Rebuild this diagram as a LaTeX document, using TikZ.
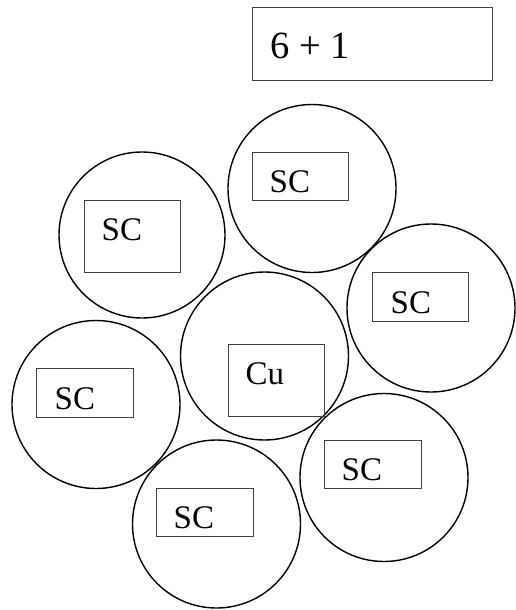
\documentclass[tikz,border=0pt]{standalone}
\usepackage{fontspec}
\setmainfont{Liberation Serif}
\begin{document}
\begin{tikzpicture}[x=1pt,y=-1pt,
  strand/.style={circle,draw=black,line width=1.4pt,minimum size=168pt,inner sep=0pt},
  lbox/.style={draw=black!75,line width=1pt,inner sep=0pt},
  lbl/.style={anchor=base west,inner sep=0pt,font=\fontsize{33}{33}\selectfont},
  ttl/.style={anchor=base west,inner sep=0pt,font=\fontsize{38.5}{38.5}\selectfont}]
\useasboundingbox (0,0) rectangle (515,610);
% title
\node[lbox,minimum width=240pt,minimum height=72pt] (title) at (372,44) {};
\node[ttl] (titletext) at (270,59) {6 + 1};
% strands
\node[strand] (c1) at (312,188.5) {};
\node[strand,minimum size=166pt] (c2) at (142,235) {};
\node[strand] (c3) at (431,308) {};
\node[strand] (c4) at (264.5,356) {};
\node[strand] (c5) at (96,404.5) {};
\node[strand] (c6) at (384,477.5) {};
\node[strand] (c7) at (216.5,524) {};
% boxes
\node[lbox,minimum width=96pt,minimum height=48pt] (r1) at (300,176) {};
\node[lbox,minimum width=96pt,minimum height=72pt] (r2) at (132,236) {};
\node[lbox,minimum width=96pt,minimum height=49pt] (r3) at (420,296.5) {};
\node[lbox,minimum width=96pt,minimum height=72pt] (r4) at (276,380) {};
\node[lbox,minimum width=97pt,minimum height=49pt] (r5) at (84.5,392.5) {};
\node[lbox,minimum width=97pt,minimum height=48pt] (r6) at (372.5,464) {};
\node[lbox,minimum width=97pt,minimum height=48pt] (r7) at (204.5,512) {};
% labels
\node[lbl] (t1) at (269.5,192) {SC};
\node[lbl] (t2) at (101.5,240) {SC};
\node[lbl] (t3) at (390.5,313) {SC};
\node[lbl] (t4) at (245.5,384) {Cu};
\node[lbl] (t5) at (54.5,409) {SC};
\node[lbl] (t6) at (341.5,480) {SC};
\node[lbl] (t7) at (173.5,528) {SC};
\end{tikzpicture}
\end{document}
